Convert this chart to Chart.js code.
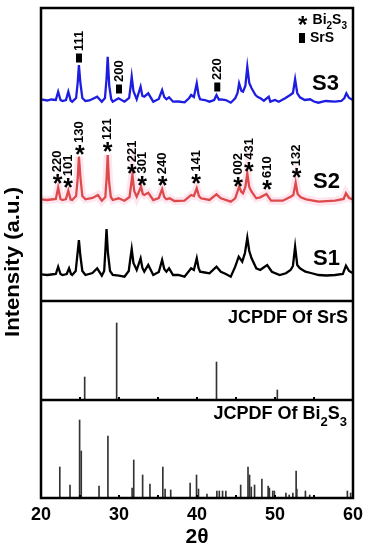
<!DOCTYPE html>
<html>
<head>
<meta charset="utf-8">
<title>XRD patterns S1-S3 with JCPDF references</title>
<script src="https://cdn.jsdelivr.net/npm/chart.js"></script>
<style>
    body {
        margin: 0;
        background: #ffffff;
    }

    .chart-box {
        position: relative;
        width: 369px;
        height: 550px;
    }
</style>
</head>
<body>
<div class="chart-box"><canvas id="xrdChart"></canvas></div>

<script>
    // measured patterns (2theta, intensity a.u. incl. stacking offset)
    const s3Theta = [20.0, 20.8, 21.3, 21.9, 22.2, 22.5, 22.75, 23.2, 23.5, 23.8,
        24.0, 24.5, 24.7, 24.86, 25.05, 25.3, 25.7, 26.2, 26.6, 27.2,
        27.8, 28.2, 28.4, 28.55, 28.75, 29.0, 29.2, 29.94, 30.7, 31.3,
        31.5, 31.63, 31.85, 32.27, 32.77, 33.0, 33.24, 33.75, 34.39, 35.1,
        35.53, 35.8, 36.08, 36.42, 36.93, 37.6, 38.41, 39.0, 39.25, 39.6,
        39.97, 40.2, 40.4, 41.0, 41.6, 42.2, 42.5, 42.8, 43.06, 43.7,
        44.33, 44.9, 45.2, 45.4, 45.7, 45.9, 46.2, 46.45, 46.7, 47.0,
        47.5, 47.8, 48.14, 48.57, 49.2, 49.4, 50.0, 50.48, 51.3, 51.95,
        52.3, 52.58, 52.85, 53.2, 53.8, 54.5, 55.0, 55.55, 56.5, 57.66,
        58.5, 58.9, 59.15, 59.5, 60.0];
    const s3Int = [201.7, 200.5, 201.5, 201, 209.3, 201, 200, 201, 209.3, 200.5,
        199.3, 203, 218, 236, 218, 203, 200, 200.5, 202, 204.3,
        199.3, 203, 222, 244.3, 215, 202, 199.3, 202.7, 199.3, 203,
        215, 224.3, 210, 201.7, 214.3, 205, 204.3, 207.7, 199.3, 202,
        211, 204, 201.7, 203.7, 199.3, 199.5, 198.7, 203, 206, 204,
        217.7, 206, 201.7, 201, 199.3, 201, 206, 201.5, 201.7, 201,
        198.3, 202.7, 208, 217.7, 210, 209.3, 215, 234.3, 218, 212.7,
        206, 204, 202.7, 200.3, 204.3, 199.3, 201, 199.3, 202.7, 206,
        208, 221.7, 208, 203.7, 201, 201.7, 199.5, 198.3, 200, 199.3,
        200, 203, 207.7, 203, 201];

    const s2Theta = [20.0, 20.8, 21.3, 21.9, 22.2, 22.5, 22.75, 23.2, 23.5, 23.8,
        24.0, 24.5, 24.7, 24.86, 25.05, 25.3, 25.7, 26.6, 27.3, 27.8,
        28.25, 28.42, 28.55, 28.72, 28.95, 29.2, 29.94, 30.7, 31.35, 31.55,
        31.72, 31.95, 32.27, 32.83, 33.05, 33.24, 33.75, 34.39, 35.1, 35.53,
        35.8, 36.08, 36.5, 37.1, 38.4, 39.25, 39.6, 39.97, 40.25, 40.5,
        41.6, 42.5, 43.06, 44.33, 44.9, 45.4, 45.7, 45.9, 46.2, 46.45,
        46.7, 47.0, 47.6, 48.1, 48.9, 49.5, 51.0, 52.0, 52.35, 52.65,
        52.9, 53.3, 54.0, 55.6, 57.7, 58.8, 59.1, 59.5, 60.0];
    const s2Int = [101.7, 101, 101.5, 102, 113.3, 102, 101, 102, 110.3, 101.5,
        101, 105, 122, 144.3, 124, 105, 101.7, 103, 106, 100.3,
        104, 124, 146, 120, 104, 101, 102.7, 100.3, 104, 116,
        126, 110, 104.3, 114.3, 107, 106, 108.3, 101, 103, 111.7,
        104, 101.7, 102.7, 100, 100.3, 106, 105, 112.7, 105, 102.7,
        101, 106.7, 102.7, 99.3, 102.7, 114.3, 109, 107.7, 114, 127.7,
        114, 109.3, 102.7, 103.7, 107, 100.3, 100.3, 104.3, 106, 118.3,
        107, 103.7, 101.7, 99.3, 100.3, 102, 107.7, 103, 101.7];

    const s1Theta = [20.0, 20.8, 21.3, 21.9, 22.2, 22.5, 22.75, 23.3, 23.6, 23.85,
        24.0, 24.45, 24.65, 24.86, 25.05, 25.3, 25.7, 26.6, 27.2, 27.8,
        28.1, 28.25, 28.4, 28.58, 28.85, 29.2, 30.0, 30.7, 31.25, 31.45,
        31.63, 31.85, 32.27, 32.77, 33.0, 33.24, 33.75, 34.39, 35.1, 35.53,
        35.8, 36.08, 36.42, 36.93, 37.6, 38.4, 39.25, 39.6, 39.97, 40.2,
        40.4, 41.0, 41.6, 42.5, 43.06, 43.7, 44.33, 44.9, 45.35, 45.8,
        46.15, 46.45, 46.7, 47.0, 47.6, 48.1, 48.5, 49.0, 49.6, 50.6,
        51.4, 52.0, 52.3, 52.58, 52.85, 53.2, 53.9, 54.6, 55.6, 56.6,
        57.7, 58.7, 59.1, 59.5, 60.0];
    const s1Int = [26.7, 26, 26.5, 27, 34.3, 27, 26, 27, 32.7, 27,
        26, 30, 45, 61, 45, 30, 26, 28, 32.7, 25.3,
        30, 50, 72, 48, 30, 26, 25.3, 24.3, 30, 42,
        52, 38, 31, 42.7, 33, 29.3, 36, 26, 29, 41,
        32, 29.3, 32.7, 26, 26, 24.3, 32.7, 31, 42.7, 33,
        29.3, 28.5, 27.7, 34.3, 29.3, 27, 24.3, 34.3, 44.3, 39.3,
        48, 63.3, 50, 42.7, 32.7, 31, 33.3, 36, 29.3, 26,
        27.7, 31, 35, 54.3, 36, 32.7, 29.3, 28, 26, 25.5,
        26, 27, 35.3, 30, 27.7];

    // JCPDF reference lines
    const srsTheta = [25.6, 29.7, 42.5, 50.3];
    const srsInt = [23, 77, 38, 10];

    const bi2s3Theta = [22.41, 23.72, 24.95, 25.16, 27.44, 28.58, 31.68, 31.89, 33.03, 33.97, 35.62, 35.91, 36.63,
        39.12, 39.94, 40.19, 41.28, 42.55, 42.86, 43.28, 43.70, 45.6, 46.54, 46.74, 46.96, 47.38, 48.32,
        49.12, 49.28, 49.71, 49.92, 51.40, 51.82, 52.29, 52.71, 52.8, 53.9, 54.45, 59.28, 59.7];
    const bi2s3Int = [31, 13, 78, 47, 12, 62, 10, 38, 23, 14, 31, 9, 8,
        15, 23, 9, 4, 7, 7, 7, 7, 13, 31, 23, 11, 13, 19,
        12, 10, 7, 7, 5, 3, 5, 27, 9, 7, 3, 7, 5];

    // peak indexing
    const srsHkl = ['111', '200', '220'];
    const srsHklTheta = [24.87, 30.0, 42.6];
    const srsHklInt = [243, 212, 214];

    const biHkl = ['220', '101', '130', '121', '221', '301', '240', '141', '002', '431', '610', '132'];
    const biHklTheta = [22.16, 23.5, 24.99, 28.55, 31.68, 32.99, 35.62, 39.89, 45.3, 46.67, 49.0, 52.8];
    const biHklInt = [121.7, 117.7, 151, 154, 131.7, 120.5, 119.8, 122.3, 119.3, 134.3, 116, 127.7];

    const xTicks = [20, 30, 40, 50, 60];
    const minorTicks = [25, 30, 35, 40, 45, 50, 55];

    const FONT = '"Liberation Sans", Arial, sans-serif';
    Chart.defaults.font.family = FONT;
    Chart.defaults.color = '#000';

    function toXY(xs, ys) {
        return xs.map((x, i) => ({ x: x, y: ys[i] }));
    }

    function centeredStar(ctx, px, py, size) {
        ctx.font = 'bold ' + size + 'px ' + FONT;
        ctx.textAlign = 'left';
        ctx.textBaseline = 'alphabetic';
        const m = ctx.measureText('*');
        const dx = (m.actualBoundingBoxRight - m.actualBoundingBoxLeft) / 2;
        const dy = (m.actualBoundingBoxAscent - m.actualBoundingBoxDescent) / 2;
        ctx.fillText('*', px - dx, py + dy);
    }

    function verticalText(ctx, str, px, pyBottom, size) {
        ctx.save();
        ctx.translate(px, pyBottom);
        ctx.rotate(-Math.PI / 2);
        ctx.font = 'bold ' + size + 'px ' + FONT;
        ctx.textAlign = 'left';
        ctx.textBaseline = 'middle';
        ctx.fillText(str, 0, 0);
        ctx.restore();
    }

    // text with subscripts, right aligned, y = middle of capitals
    function formula(ctx, parts, xRight, y, size) {
        const sub = Math.round(size * 0.7);
        let total = 0;
        parts.forEach(p => {
            ctx.font = 'bold ' + (p[1] ? sub : size) + 'px ' + FONT;
            total += ctx.measureText(p[0]).width;
        });
        let x = xRight - total;
        ctx.textAlign = 'left';
        ctx.textBaseline = 'middle';
        parts.forEach(p => {
            ctx.font = 'bold ' + (p[1] ? sub : size) + 'px ' + FONT;
            ctx.fillText(p[0], x, p[1] ? y + size * 0.45 : y);
            x += ctx.measureText(p[0]).width;
        });
    }

    const decorations = {
        id: 'decorations',
        afterDraw(chart) {
            const { ctx, chartArea: a, scales } = chart;
            const x = scales.x, yS = scales.yS, yA = scales.yA, yB = scales.yB;
            ctx.save();
            ctx.fillStyle = '#000';
            ctx.strokeStyle = '#000';

            // frame + panel dividers
            ctx.lineWidth = 2.5;
            ctx.strokeRect(a.left, a.top, a.right - a.left, a.bottom - a.top);
            [yS.bottom, yA.bottom].forEach(yy => {
                ctx.beginPath();
                ctx.moveTo(a.left, yy);
                ctx.lineTo(a.right, yy);
                ctx.stroke();
            });

            // small inward ticks on the reference panels
            ctx.lineWidth = 2;
            [yA.bottom, yB.bottom].forEach(yy => {
                minorTicks.forEach(t => {
                    const px = x.getPixelForValue(t);
                    ctx.beginPath();
                    ctx.moveTo(px, yy);
                    ctx.lineTo(px, yy - 3);
                    ctx.stroke();
                });
            });

            // SrS indexing on S3
            srsHkl.forEach((lab, i) => {
                const px = x.getPixelForValue(srsHklTheta[i]);
                const py = yS.getPixelForValue(srsHklInt[i]);
                ctx.fillRect(px - 3, py - 4.5, 6, 9);
                verticalText(ctx, lab, px, py - 7, 13);
            });

            // Bi2S3 indexing on S2
            biHkl.forEach((lab, i) => {
                const px = x.getPixelForValue(biHklTheta[i]);
                const py = yS.getPixelForValue(biHklInt[i]);
                centeredStar(ctx, px, py, 25);
                verticalText(ctx, lab, px, py - 7, 13);
            });

            // legend
            centeredStar(ctx, a.right - 50, a.top + 12, 24);
            formula(ctx, [['Bi', false], ['2', true], ['S', false], ['3', true]], a.right - 6, a.top + 12, 14);
            ctx.fillRect(a.right - 54, a.top + 25, 6, 10);
            ctx.font = 'bold 14px ' + FONT;
            ctx.textAlign = 'left';
            ctx.textBaseline = 'middle';
            ctx.fillText('SrS', a.right - 43, a.top + 30);

            // sample names
            ctx.font = 'bold 22px ' + FONT;
            ctx.textAlign = 'right';
            ctx.fillText('S3', a.right - 14, a.top + 76);
            ctx.fillText('S2', a.right - 13, a.top + 174);
            ctx.fillText('S1', a.right - 13, a.top + 251);

            // reference panel titles
            formula(ctx, [['JCPDF Of SrS', false]], a.right - 5, yA.top + 17, 18);
            formula(ctx, [['JCPDF Of Bi', false], ['2', true], ['S', false], ['3', true]], a.right - 6, yB.top + 14, 18);

            // y title
            ctx.save();
            ctx.translate(13, (a.top + a.bottom) / 2 + 9);
            ctx.rotate(-Math.PI / 2);
            ctx.font = 'bold 20px ' + FONT;
            ctx.textAlign = 'center';
            ctx.textBaseline = 'middle';
            const w = ctx.measureText('Intensity (a.u.)').width;
            ctx.scale(150 / w, 1);
            ctx.fillText('Intensity (a.u.)', 0, 0);
            ctx.restore();

            ctx.restore();
        }
    };

    const hiddenY = (weight, max) => ({
        type: 'linear',
        position: 'left',
        stack: 'panels',
        stackWeight: weight,
        min: 0,
        max: max,
        ticks: { display: false },
        grid: { display: false, drawTicks: false },
        border: { display: false },
        afterFit(s) { s.width = 0; }
    });

    const lineStyle = { type: 'line', pointRadius: 0, tension: 0, fill: false, yAxisID: 'yS' };

    new Chart(document.getElementById('xrdChart'), {
        type: 'line',
        data: {
            datasets: [
                Object.assign({ label: 'S3', data: toXY(s3Theta, s3Int), borderColor: '#1d1de2', borderWidth: 2.3 }, lineStyle),
                Object.assign({ label: 'S2 glow', data: toXY(s2Theta, s2Int), borderColor: 'rgba(255,170,200,0.3)', borderWidth: 8 }, lineStyle),
                Object.assign({ label: 'S2', data: toXY(s2Theta, s2Int), borderColor: '#cf2218', borderWidth: 2.3 }, lineStyle),
                Object.assign({ label: 'S1', data: toXY(s1Theta, s1Int), borderColor: '#000000', borderWidth: 2.3 }, lineStyle),
                { type: 'bar', label: 'JCPDF SrS', data: toXY(srsTheta, srsInt), yAxisID: 'yA',
                  backgroundColor: '#333', barThickness: 1, grouped: false },
                { type: 'bar', label: 'JCPDF Bi2S3', data: toXY(bi2s3Theta, bi2s3Int), yAxisID: 'yB',
                  backgroundColor: '#333', barThickness: 1, grouped: false }
            ]
        },
        options: {
            responsive: true,
            maintainAspectRatio: false,
            animation: false,
            layout: { padding: { left: 41, right: 11, top: 8, bottom: 0 } },
            plugins: { legend: { display: false }, tooltip: { enabled: false } },
            scales: {
                x: {
                    type: 'linear',
                    position: 'bottom',
                    min: 20,
                    max: 60,
                    offset: false,
                    afterBuildTicks(s) { s.ticks = xTicks.map(v => ({ value: v })); },
                    ticks: { padding: 6, maxRotation: 0, font: { size: 18, weight: 'bold' } },
                    grid: { display: false, drawTicks: false, offset: false },
                    border: { display: false },
                    title: { display: true, text: '2θ', font: { size: 21, weight: 'bold' }, padding: { top: 0, bottom: 0 } },
                    afterFit(s) { s.height = 52; }
                },
                // stacked panels: first listed ends up at the bottom
                yB: hiddenY(98, 98),
                yA: hiddenY(99, 99),
                yS: hiddenY(293, 293)
            }
        },
        plugins: [decorations]
    });
</script>
</body>
</html>
